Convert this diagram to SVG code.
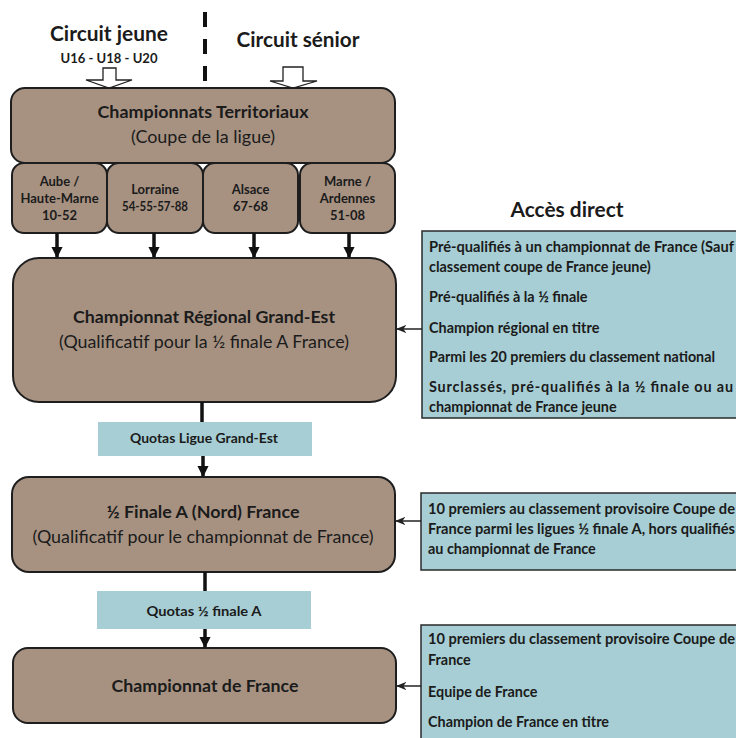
<svg xmlns="http://www.w3.org/2000/svg" width="736" height="738" viewBox="0 0 736 738">
<style>
text{font-family:Lato,"Liberation Sans",sans-serif;fill:#1b1b1b}
.b{font-weight:bold}
.brown{fill:#a79282;stroke:#1e1e1e;stroke-width:2}
.blue{fill:#a6ced4;stroke:#2a2a2a;stroke-width:1.5}
.quota{fill:#a6ced4;stroke:none}
.thick{stroke:#111;stroke-width:3.5;fill:none}
.thin{stroke:#222;stroke-width:1.5;fill:none}
.hollow{fill:#fff;stroke:#222;stroke-width:1.3}
.t13{font-size:13px;font-weight:bold}
.t14{font-size:14.4px;font-weight:bold}
.t17{font-size:17px}
</style>
<defs>
<marker id="ah" viewBox="0 0 10 10" refX="9" refY="5" markerWidth="3.2" markerHeight="3.2" orient="auto" markerUnits="strokeWidth">
<path d="M0,0 L10,5 L0,10 z" fill="#111"/>
</marker>
<marker id="ah2" viewBox="0 0 10 10" refX="9" refY="5" markerWidth="7" markerHeight="7" orient="auto" markerUnits="strokeWidth">
<path d="M0,1 L10,5 L0,9 L3,5 z" fill="#222"/>
</marker>
</defs>
<rect width="736" height="738" fill="#fff"/>

<g id="header">
<text class="b" x="109" y="41" font-size="20" text-anchor="middle" textLength="118" lengthAdjust="spacingAndGlyphs">Circuit jeune</text>
<text class="b" x="109" y="63" font-size="13" text-anchor="middle" textLength="97" lengthAdjust="spacingAndGlyphs">U16 - U18 - U20</text>
<text class="b" x="298" y="47" font-size="20" text-anchor="middle" textLength="123" lengthAdjust="spacingAndGlyphs">Circuit sénior</text>
<line x1="205" y1="12" x2="205" y2="83" stroke="#111" stroke-width="4" stroke-dasharray="15 12"/>
<polygon class="hollow" points="103,68 116,68 116,80 132,80 109,88 86,80 103,80"/>
<polygon class="hollow" points="283,67 303,67 303,81 317,81 293,88 270,81 283,81"/>
</g>

<g id="territoriaux">
<rect class="brown" x="11" y="88" width="384" height="75" rx="14"/>
<text class="b t17" x="203" y="118" text-anchor="middle" textLength="211" lengthAdjust="spacingAndGlyphs">Championnats Territoriaux</text>
<text class="t17" x="203" y="143" text-anchor="middle" textLength="144" lengthAdjust="spacingAndGlyphs">(Coupe de la ligue)</text>
</g>

<g id="aube">
<rect class="brown" x="12" y="163" width="95" height="70" rx="12"/>
<text class="t13" x="59.5" text-anchor="middle"><tspan x="59.5" y="186">Aube /</tspan><tspan x="59.5" y="203">Haute-Marne</tspan><tspan x="59.5" y="220">10-52</tspan></text>
</g>
<g id="lorraine">
<rect class="brown" x="107" y="163" width="96" height="70" rx="12"/>
<text class="t13" x="155" text-anchor="middle"><tspan x="155" y="194">Lorraine</tspan><tspan x="155" y="211" textLength="66" lengthAdjust="spacingAndGlyphs">54-55-57-88</tspan></text>
</g>
<g id="alsace">
<rect class="brown" x="203" y="163" width="95" height="70" rx="12"/>
<text class="t13" x="250.5" text-anchor="middle"><tspan x="250.5" y="194">Alsace</tspan><tspan x="250.5" y="211">67-68</tspan></text>
</g>
<g id="marne">
<rect class="brown" x="300" y="163" width="95" height="70" rx="12"/>
<text class="t13" x="347.5" text-anchor="middle"><tspan x="347.5" y="186">Marne /</tspan><tspan x="347.5" y="203">Ardennes</tspan><tspan x="347.5" y="220">51-08</tspan></text>
</g>

<g id="regional">
<rect class="brown" x="13" y="258" width="383" height="144" rx="26"/>
<text class="b t17" x="204" y="323" text-anchor="middle" textLength="262" lengthAdjust="spacingAndGlyphs">Championnat Régional Grand-Est</text>
<text class="t17" x="204" y="348" text-anchor="middle" textLength="290" lengthAdjust="spacingAndGlyphs">(Qualificatif pour la ½ finale A France)</text>
</g>

<g id="quota1">
<rect class="quota" x="98" y="422" width="214" height="34"/>
<text class="t13" x="204" y="443" text-anchor="middle" textLength="148" lengthAdjust="spacingAndGlyphs">Quotas Ligue Grand-Est</text>
</g>

<g id="semifinale">
<rect class="brown" x="12" y="477" width="383" height="95" rx="17"/>
<text class="b t17" x="203" y="518" text-anchor="middle" textLength="193" lengthAdjust="spacingAndGlyphs">½ Finale A (Nord) France</text>
<text class="t17" x="203" y="543" text-anchor="middle" textLength="341" lengthAdjust="spacingAndGlyphs">(Qualificatif pour le championnat de France)</text>
</g>

<g id="quota2">
<rect class="quota" x="97" y="591" width="214" height="38"/>
<text class="t13" x="204" y="616" text-anchor="middle" textLength="115" lengthAdjust="spacingAndGlyphs">Quotas ½ finale A</text>
</g>

<g id="france">
<rect class="brown" x="13" y="648" width="383" height="75" rx="15"/>
<text class="b t17" x="205" y="692" text-anchor="middle" textLength="187" lengthAdjust="spacingAndGlyphs">Championnat de France</text>
</g>

<g id="acces-title">
<text class="b" x="567" y="217" font-size="20" text-anchor="middle" textLength="113" lengthAdjust="spacingAndGlyphs">Accès direct</text>
</g>

<g id="acces-regional">
<rect class="blue" x="422" y="231" width="330" height="187"/>
<text class="t14" x="429" y="252" textLength="305" lengthAdjust="spacingAndGlyphs">Pré-qualifiés à un championnat de France (Sauf</text>
<text class="t14" x="429" y="272">classement coupe de France jeune)</text>
<text class="t14" x="429" y="302">Pré-qualifiés à la ½ finale</text>
<text class="t14" x="429" y="333">Champion régional en titre</text>
<text class="t14" x="429" y="362" textLength="286" lengthAdjust="spacingAndGlyphs">Parmi les 20 premiers du classement national</text>
<text class="t14" x="429" y="392" textLength="304" lengthAdjust="spacing">Surclassés, pré-qualifiés à la ½ finale ou au</text>
<text class="t14" x="429" y="412">championnat de France jeune</text>
</g>

<g id="acces-semi">
<rect class="blue" x="421" y="493" width="330" height="77"/>
<text class="t14" x="428" y="514" textLength="307" lengthAdjust="spacingAndGlyphs">10 premiers au classement provisoire Coupe de</text>
<text class="t14" x="428" y="534" textLength="307" lengthAdjust="spacingAndGlyphs">France parmi les ligues ½ finale A, hors qualifiés</text>
<text class="t14" x="428" y="554">au championnat de France</text>
</g>

<g id="acces-france">
<rect class="blue" x="421" y="625" width="330" height="130"/>
<text class="t14" x="428" y="644" textLength="307" lengthAdjust="spacingAndGlyphs">10 premiers du classement provisoire Coupe de</text>
<text class="t14" x="428" y="665">France</text>
<text class="t14" x="428" y="697">Equipe de France</text>
<text class="t14" x="428" y="727">Champion de France en titre</text>
</g>

<g id="connectors">
<line class="thick" x1="57" y1="233" x2="57" y2="257" marker-end="url(#ah)"/>
<line class="thick" x1="154" y1="233" x2="154" y2="257" marker-end="url(#ah)"/>
<line class="thick" x1="254" y1="233" x2="254" y2="257" marker-end="url(#ah)"/>
<line class="thick" x1="349" y1="233" x2="349" y2="257" marker-end="url(#ah)"/>
<line class="thick" x1="202" y1="402" x2="202" y2="422" stroke-width="4"/>
<line class="thick" x1="203" y1="456" x2="203" y2="476" marker-end="url(#ah)"/>
<line class="thick" x1="205" y1="572" x2="205" y2="591" stroke-width="4"/>
<line class="thick" x1="205" y1="629" x2="205" y2="647" marker-end="url(#ah)"/>
<line class="thin" x1="422" y1="329" x2="397" y2="329" marker-end="url(#ah2)"/>
<line class="thin" x1="421" y1="521" x2="396" y2="521" marker-end="url(#ah2)"/>
<line class="thin" x1="421" y1="686" x2="397" y2="686" marker-end="url(#ah2)"/>
</g>
</svg>
